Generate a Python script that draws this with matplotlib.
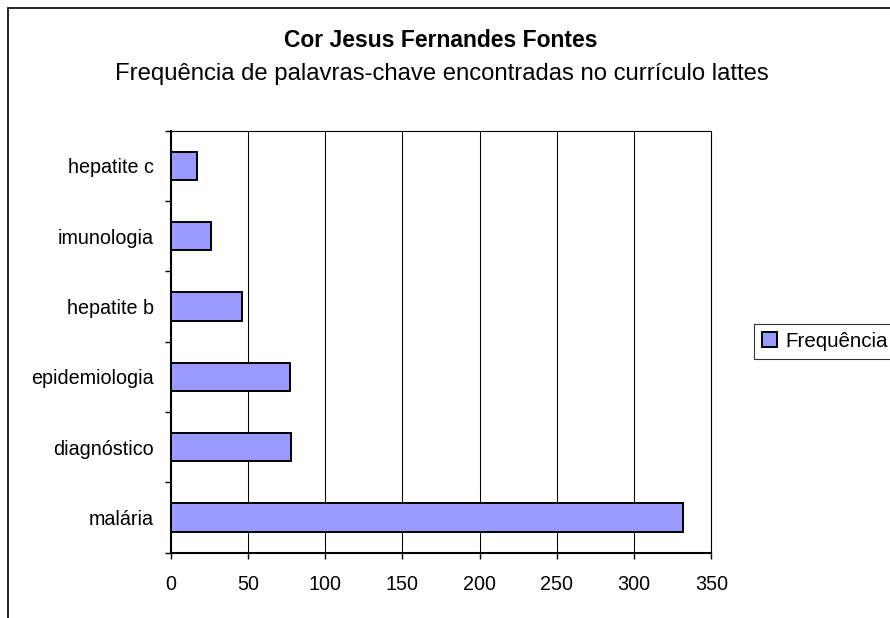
import matplotlib.pyplot as plt
from matplotlib.patches import Rectangle
from matplotlib.ticker import FixedLocator

plt.rcParams['font.family'] = ['Liberation Sans', 'DejaVu Sans']

# dados
palavras = ['malária', 'diagnóstico', 'epidemiologia', 'hepatite b', 'imunologia', 'hepatite c']
frequencia = [332, 78, 77, 46, 26, 17]
x_ticks = [0, 50, 100, 150, 200, 250, 300, 350]

titulo = 'Cor Jesus Fernandes Fontes'
subtitulo = 'Frequência de palavras-chave encontradas no currículo lattes'

fig = plt.figure(figsize=(8.9, 6.18), dpi=100)
ax = fig.add_axes([0.1918, 0.1057, 0.6074, 0.6828])

pos = list(range(len(palavras)))
ax.barh(pos, frequencia, height=0.4, color='#9999FF', edgecolor='black',
        linewidth=1.4, label='Frequência', zorder=3)

ax.set_xlim(0, 350)
ax.set_ylim(-0.5, len(palavras) - 0.5)
ax.set_xticks(x_ticks)
ax.set_yticks(pos)
ax.set_yticklabels(palavras)
ax.yaxis.set_minor_locator(FixedLocator([p - 0.5 for p in range(len(palavras) + 1)]))

ax.tick_params(axis='x', direction='out', length=4.3, width=1, pad=12, labelsize=14.2)
ax.tick_params(axis='y', which='major', length=0, pad=12, labelsize=14.2)
ax.tick_params(axis='y', which='minor', direction='out', length=4.3, width=1)

ax.grid(True, axis='x', color='black', linewidth=0.75, zorder=0)
for s in ['left', 'bottom']:
    ax.spines[s].set_linewidth(1.5)
for s in ['top', 'right']:
    ax.spines[s].set_linewidth(0.8)

fig.text(0.495, 0.9235, titulo, ha='center', va='baseline', fontsize=16.5, fontweight='bold')
fig.text(0.496, 0.8706, subtitulo, ha='center', va='baseline', fontsize=17.2)

leg = fig.legend(loc='center left', bbox_to_anchor=(0.847, 0.4474), fontsize=14.8,
                 fancybox=False, frameon=True, handlelength=0.75, handleheight=0.75,
                 handletextpad=0.4, borderpad=0.4, borderaxespad=0)
leg.get_frame().set_edgecolor('black')
leg.get_frame().set_linewidth(0.8)

# moldura do grafico (estilo excel)
fig.add_artist(Rectangle((8 / 890, -0.1), 1.2, 1.1 - 8 / 618, transform=fig.transFigure,
                         fill=False, edgecolor='black', linewidth=1.2))

plt.savefig('out.png', dpi=100)
